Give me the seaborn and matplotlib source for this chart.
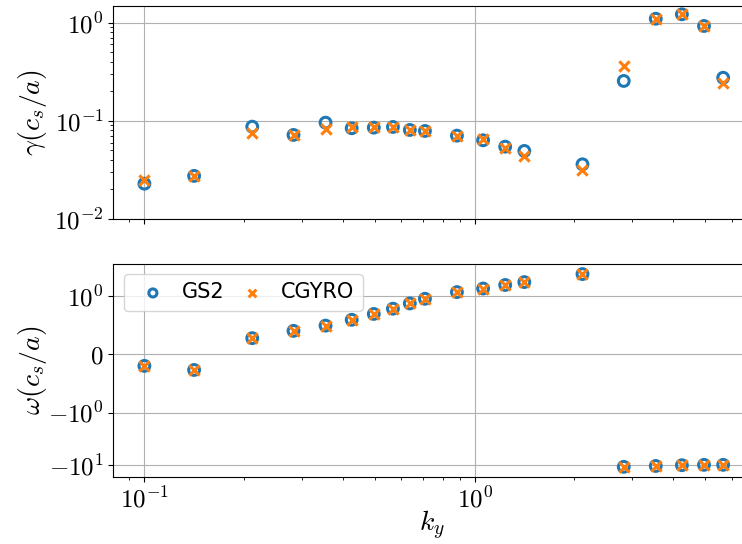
import numpy as np
import pandas as pd
import matplotlib
matplotlib.use("Agg")
import matplotlib.pyplot as plt
import matplotlib.ticker as mticker
import seaborn as sns

# ---- data ----
ky = [0.1000, 0.1414, 0.2121, 0.2828, 0.3536, 0.4243, 0.4950, 0.5657, 0.6364, 0.7071,
      0.8839, 1.0607, 1.2374, 1.4142, 2.1213, 2.8284, 3.5355, 4.2426, 4.9497, 5.6569]

gamma_gs2 = [0.0229, 0.0275, 0.0873, 0.0719, 0.0959, 0.0841, 0.0853, 0.0867, 0.0808, 0.0789,
             0.0707, 0.0634, 0.0546, 0.0494, 0.0361, 0.255, 1.098, 1.218, 0.926, 0.275]
gamma_cgyro = [0.0250, 0.0277, 0.0759, 0.0719, 0.0827, 0.0873, 0.0860, 0.0873, 0.0808, 0.0789,
               0.0707, 0.0659, 0.0526, 0.0439, 0.0316, 0.365, 1.098, 1.218, 0.926, 0.241]

omega_gs2 = [-0.20, -0.27, 0.275, 0.40, 0.49, 0.59, 0.69, 0.78, 0.87, 0.95,
             1.18, 1.38, 1.61, 1.83, 2.60, -10.8, -10.4, -10.05, -9.9, -9.9]
omega_cgyro = [-0.20, -0.27, 0.275, 0.40, 0.49, 0.59, 0.69, 0.78, 0.87, 0.95,
               1.18, 1.38, 1.61, 1.83, 2.60, -10.8, -10.4, -10.05, -9.9, -9.9]

labels = ["GS2", "CGYRO"]

plt.rcParams.update({
    "mathtext.fontset": "cm",
    "axes.grid": True,
    "grid.color": "#b0b0b0",
    "grid.linewidth": 0.8,
    "axes.edgecolor": "black",
    "axes.linewidth": 0.8,
    "xtick.labelsize": 18,
    "ytick.labelsize": 18,
    "axes.unicode_minus": True,
})


def log_fmt(v, pos=None):
    if v <= 0:
        return ""
    e = int(round(np.log10(v)))
    return r"$10^{%d}$" % e


def symlog_fmt(v, pos=None):
    if v == 0:
        return r"$0$"
    e = int(round(np.log10(abs(v))))
    sign = "-" if v < 0 else ""
    return r"$%s10^{%d}$" % (sign, e)


fig = plt.figure(figsize=(7.42, 5.44), dpi=100)
ax1 = fig.add_axes([0.1527, 0.5974, 1.013 - 0.1527, 0.9895 - 0.5974])
ax2 = fig.add_axes([0.1527, 0.1226, 1.013 - 0.1527, 0.5153 - 0.1226], sharex=ax1)

df = pd.DataFrame({"ky": ky, "g_gs2": gamma_gs2, "g_cg": gamma_cgyro,
                   "w_gs2": omega_gs2, "w_cg": omega_cgyro})

for ax, (c1, c2) in [(ax1, ("g_gs2", "g_cg")), (ax2, ("w_gs2", "w_cg"))]:
    sns.scatterplot(data=df, x="ky", y=c1, ax=ax, marker="o", s=60,
                    facecolors="none", edgecolor="#1f77b4", linewidth=2.2,
                    label=labels[0], zorder=3)
    sns.scatterplot(data=df, x="ky", y=c2, ax=ax, marker="x", s=55,
                    color="#ff7f0e", linewidth=2.2, label=labels[1], zorder=4)

ax1.set_xscale("log")
ax1.set_yscale("log")
ax1.set_ylim(0.01, 1.49)
ax1.set_xlim(0.0805, 6.9)
ax1.grid(True, which="major")
ax1.tick_params(labelbottom=False)
ax1.set_xlabel("")
ax1.set_ylabel(r"$\gamma(c_s/a)$", fontsize=20)
ax1.yaxis.set_major_formatter(mticker.FuncFormatter(log_fmt))
ax1.yaxis.set_minor_formatter(mticker.NullFormatter())
ax1.get_legend().remove()

ax2.set_yscale("symlog", linthresh=1)
ax2.yaxis.set_minor_locator(mticker.NullLocator())
ax2.yaxis.set_major_formatter(mticker.FuncFormatter(symlog_fmt))
ax2.set_ylim(-17.1, 4.1)
ax2.grid(True, which="major")
ax2.set_ylabel(r"$\omega(c_s/a)$", fontsize=20)
ax2.set_xlabel(r"$k_y$", fontsize=20, labelpad=-3)
ax2.xaxis.set_major_formatter(mticker.FuncFormatter(log_fmt))
ax2.xaxis.set_minor_formatter(mticker.NullFormatter())
ax2.legend(loc="upper left", ncol=2, fontsize=15, handletextpad=0.4,
           columnspacing=0.3, borderaxespad=0.5, markerscale=0.75)

ax1.yaxis.set_label_coords(-0.10, 0.5)
ax2.yaxis.set_label_coords(-0.10, 0.5)

fig.savefig("out.png", dpi=100)
